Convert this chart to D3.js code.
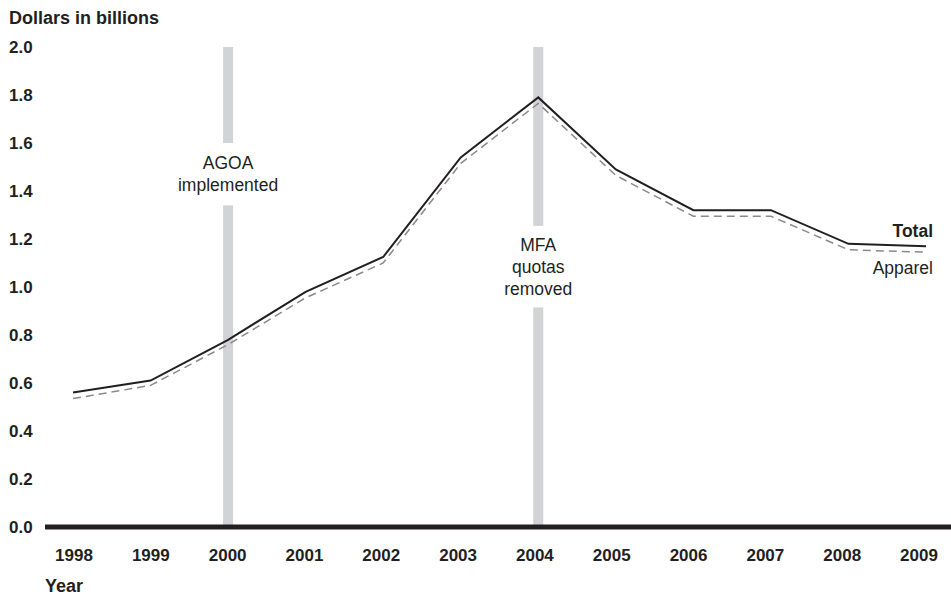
<!DOCTYPE html>
<html>
<head>
<meta charset="utf-8">
<script src="https://cdn.jsdelivr.net/npm/d3@7"></script>
<style>
  html, body { margin: 0; padding: 0; background: #fff; }
  svg { display: block; font-family: "Liberation Sans", Arial, Helvetica, sans-serif; }
</style>
</head>
<body>
<svg id="chart" width="951" height="597"></svg>
<script>
// ---- data ----
const years = [1998, 1999, 2000, 2001, 2002, 2003, 2004, 2005, 2006, 2007, 2008, 2009];
const totalValues   = [0.56, 0.61, 0.78, 0.98, 1.125, 1.54, 1.79, 1.49, 1.32, 1.32, 1.18, 1.17];
const apparelValues = [0.535, 0.59, 0.76, 0.955, 1.10, 1.515, 1.765, 1.465, 1.295, 1.295, 1.155, 1.145];
const yTicks = [0.0, 0.2, 0.4, 0.6, 0.8, 1.0, 1.2, 1.4, 1.6, 1.8, 2.0];
const events = [
  { year: 2000, lines: ["AGOA", "implemented"], gapTop: 1.6, gapBottom: 1.34 },
  { year: 2004, lines: ["MFA", "quotas", "removed"], gapTop: 1.255, gapBottom: 0.915 }
];
const yTitle = "Dollars in billions";
const xTitle = "Year";

// ---- layout ----
const svg = d3.select("#chart");
const x = d3.scaleLinear().domain([1998, 2009]).range([73, 926]);
const xLabel = d3.scaleLinear().domain([1998, 2009]).range([74, 919]);
const y = d3.scaleLinear().domain([0, 2]).range([527, 47]);
const ink = "#231f20";
const barColor = "#d1d3d4";

// event bars (with gap for label)
events.forEach(ev => {
  const cx = x(ev.year);
  svg.append("rect")
    .attr("x", cx - 5).attr("width", 10)
    .attr("y", y(2.0)).attr("height", y(ev.gapTop) - y(2.0))
    .attr("fill", barColor);
  svg.append("rect")
    .attr("x", cx - 5).attr("width", 10)
    .attr("y", y(ev.gapBottom)).attr("height", y(0) - y(ev.gapBottom))
    .attr("fill", barColor);
  const mid = (y(ev.gapTop) + y(ev.gapBottom)) / 2;
  const lh = 22;
  const start = mid - (ev.lines.length - 1) * lh / 2;
  ev.lines.forEach((t, i) => {
    svg.append("text")
      .attr("x", cx).attr("y", start + i * lh)
      .attr("dy", "0.35em")
      .attr("text-anchor", "middle")
      .attr("font-size", 17.5)
      .attr("fill", ink)
      .text(t);
  });
});

// y axis labels
svg.append("g").selectAll("text").data(yTicks).join("text")
  .attr("x", 9).attr("y", d => y(d))
  .attr("dy", "0.35em")
  .attr("font-size", 17)
  .attr("font-weight", "bold")
  .attr("fill", ink)
  .text(d => d.toFixed(1));

svg.append("text")
  .attr("x", 9).attr("y", 18).attr("dy", "0.35em")
  .attr("font-size", 18).attr("font-weight", "bold").attr("fill", ink)
  .text(yTitle);

// x axis labels
svg.append("g").selectAll("text").data(years).join("text")
  .attr("x", d => xLabel(d)).attr("y", 555)
  .attr("dy", "0.35em")
  .attr("text-anchor", "middle")
  .attr("font-size", 17)
  .attr("font-weight", "bold")
  .attr("fill", ink)
  .text(d => d);

svg.append("text")
  .attr("x", 45).attr("y", 586).attr("dy", "0.35em")
  .attr("font-size", 18).attr("font-weight", "bold").attr("fill", ink)
  .text(xTitle);

// baseline
svg.append("line")
  .attr("x1", 45).attr("x2", 951)
  .attr("y1", y(0)).attr("y2", y(0))
  .attr("stroke", ink).attr("stroke-width", 5);

// lines
const lineGen = vals => d3.line()
  .x((d, i) => x(years[i]))
  .y(d => y(d))(vals);

svg.append("path")
  .attr("d", lineGen(apparelValues))
  .attr("fill", "none")
  .attr("stroke", "#8a8a8a")
  .attr("stroke-width", 1.5)
  .attr("stroke-dasharray", "8,5");

svg.append("path")
  .attr("d", lineGen(totalValues))
  .attr("fill", "none")
  .attr("stroke", ink)
  .attr("stroke-width", 2);

// series labels
svg.append("text")
  .attr("x", 933).attr("y", 231).attr("dy", "0.35em")
  .attr("text-anchor", "end")
  .attr("font-size", 17.5).attr("font-weight", "bold").attr("fill", ink)
  .text("Total");
svg.append("text")
  .attr("x", 933).attr("y", 268).attr("dy", "0.35em")
  .attr("text-anchor", "end")
  .attr("font-size", 17.5).attr("fill", ink)
  .text("Apparel");
</script>
</body>
</html>
